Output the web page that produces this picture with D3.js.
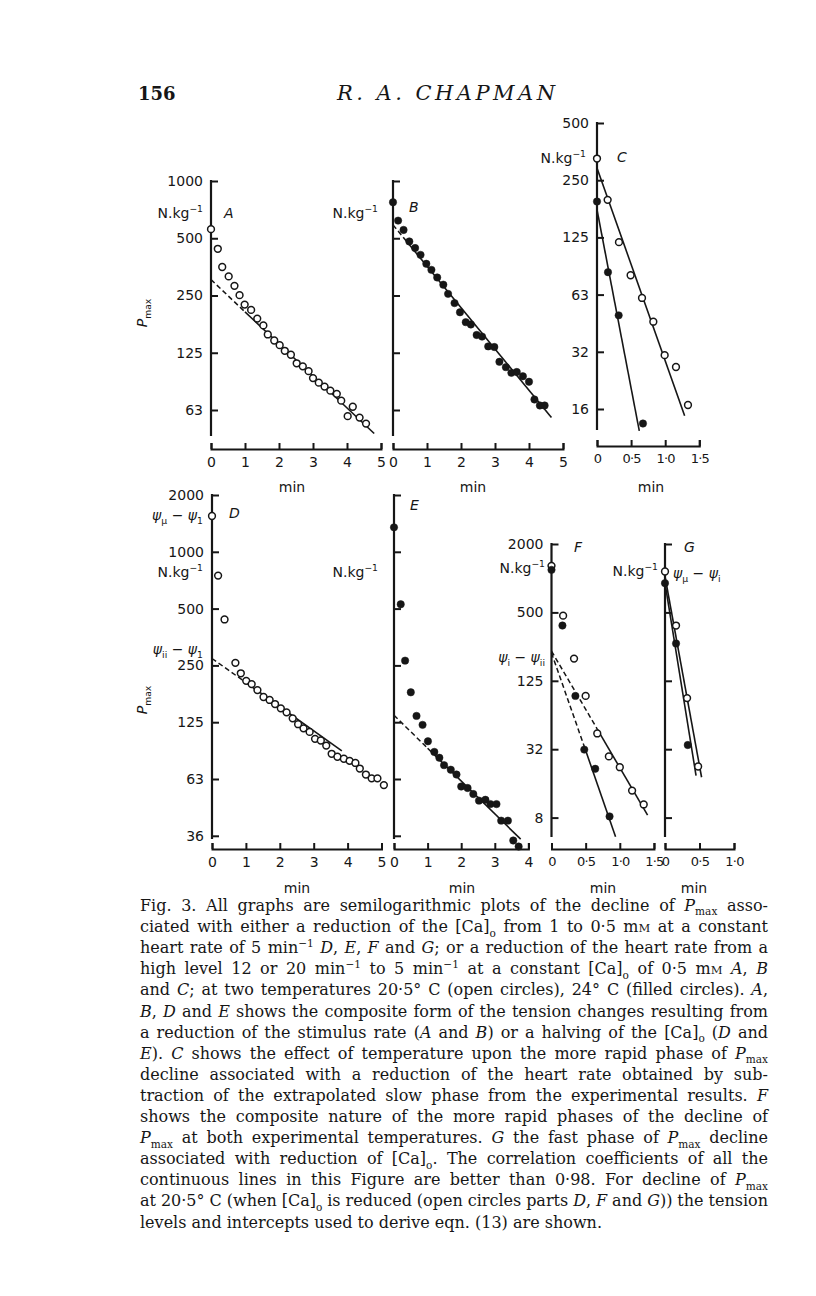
<!DOCTYPE html>
<html>
<head>
<meta charset="utf-8">
<script src="https://cdn.jsdelivr.net/npm/d3@7/dist/d3.min.js"></script>
<style>
  body { margin: 0; background: #fff; }
</style>
</head>
<body>
<div id="fig"></div>
<script>
// ---- data: [minutes, Pmax in N.kg-1] ----
var aOpen = [[0, 558], [0.2, 440], [0.33, 353], [0.52, 315], [0.69, 281], [0.84, 251], [0.99, 224],
  [1.18, 210], [1.36, 189], [1.54, 174], [1.67, 156], [1.86, 145], [2.02, 137], [2.17, 128],
  [2.35, 122], [2.52, 110], [2.70, 106], [2.87, 100], [3.00, 92], [3.17, 87], [3.34, 83],
  [3.51, 79], [3.70, 76], [3.83, 70], [4.02, 58], [4.17, 65], [4.37, 57], [4.56, 53]];
var aFit = [[0, 303], [1.0, 205], [4.8, 47]];

var bFilled = [[0, 773], [0.15, 619], [0.31, 553], [0.48, 481], [0.65, 444], [0.81, 409], [0.98, 367],
  [1.13, 341], [1.30, 311], [1.48, 285], [1.62, 255], [1.81, 228], [1.97, 204], [2.14, 181],
  [2.29, 176], [2.46, 155], [2.62, 152], [2.80, 135], [2.98, 134], [3.13, 112], [3.32, 105],
  [3.48, 98], [3.64, 99], [3.82, 94], [4.00, 88], [4.16, 71], [4.32, 66], [4.46, 66]];
var bFit = [[0, 588], [0.3, 506], [4.66, 57]];

var cOpen = [[0, 325], [0.156, 197], [0.322, 118], [0.493, 79], [0.66, 60], [0.826, 45],
  [0.992, 30], [1.158, 26], [1.334, 16.4]];
var cFilled = [[0, 193], [0.161, 82], [0.318, 48.6], [0.674, 13.1]];
var cOpenFit = [[0, 290], [1.285, 14.4]];
var cFilledFit = [[0, 175], [0.62, 12]];

var dOpen = [[0, 1548], [0.18, 748], [0.37, 438], [0.69, 258], [0.85, 227], [1.01, 207], [1.17, 199],
  [1.34, 185], [1.52, 170], [1.70, 164], [1.86, 156], [2.03, 148], [2.20, 141], [2.38, 131],
  [2.54, 122], [2.70, 116], [2.88, 111], [3.04, 102], [3.21, 100], [3.37, 94], [3.53, 85],
  [3.70, 82], [3.89, 80], [4.06, 78], [4.23, 76], [4.36, 71], [4.54, 66], [4.71, 63],
  [4.88, 63], [5.07, 58]];
var dFit = [[0, 272], [0.9, 209], [3.83, 88]];

var eFilled = [[0, 1348], [0.2, 527], [0.33, 265], [0.5, 180], [0.67, 135], [0.85, 121], [1.01, 99],
  [1.20, 87], [1.35, 81], [1.49, 74], [1.69, 70], [1.86, 66], [2.0, 57], [2.19, 56], [2.36, 52],
  [2.53, 48], [2.72, 48.5], [2.87, 46], [3.05, 46], [3.19, 37.6], [3.39, 37.6], [3.55, 29.5],
  [3.71, 27.4]];
var eFit = [[0, 136], [1.0, 91], [3.77, 30]];

var fOpen = [[0, 1284], [0.17, 468], [0.33, 196], [0.50, 92], [0.67, 43], [0.84, 27], [1.0, 21.7],
  [1.18, 13.5], [1.35, 10.2]];
var fFilled = [[0, 1184], [0.16, 383], [0.35, 92], [0.48, 31], [0.64, 21], [0.85, 8.0]];
var fOpenFit = [[0, 228], [0.67, 47], [1.407, 8.2]];
var fFilledFit = [[0, 220], [0.48, 33], [0.938, 5.3]];

var gOpen = [[0, 1145], [0.16, 383], [0.32, 88], [0.48, 22]];
var gFilled = [[0, 905], [0.16, 266], [0.33, 34]];
var gOpenFit = [[0, 1035], [0.53, 17.7]];
var gFilledFit = [[0, 905], [0.45, 18.3]];

// tick values and labels
var ticks1000 = [1000, 500, 250, 125, 62.5];
var labels1000 = ['1000', '500', '250', '125', '63'];
var ticks500 = [500, 250, 125, 62.5, 31.25, 15.625];
var labels500 = ['500', '250', '125', '63', '32', '16'];
var ticks2000 = [2000, 1000, 500, 250, 125, 62.5, 31.25];
var labels2000 = ['2000', '1000', '500', '250', '125', '63', '36'];
var ticks2000q = [2000, 500, 125, 31.25, 7.8125];
var labels2000q = ['2000', '500', '125', '32', '8'];
var minTicks5 = [0, 1, 2, 3, 4, 5];
var minTicks4 = [0, 1, 2, 3, 4];
var minTicks15 = [0, 0.5, 1, 1.5];
var minLabels15 = ['0', '0·5', '1·0', '1·5'];
var minTicks1 = [0, 0.5, 1];
var minLabels1 = ['0', '0·5', '1·0'];

var captionLines = [
  'Fig. 3. All graphs are semilogarithmic plots of the decline of *P*_{max} asso-',
  'ciated with either a reduction of the [Ca]_{o} from 1 to 0·5 m~{M} at a constant',
  'heart rate of 5 min^{−1} *D*, *E*, *F* and *G*; or a reduction of the heart rate from a',
  'high level 12 or 20 min^{−1} to 5 min^{−1} at a constant [Ca]_{o} of 0·5 m~{M} *A*, *B*',
  'and *C*; at two temperatures 20·5° C (open circles), 24° C (filled circles). *A*,',
  '*B*, *D* and *E* shows the composite form of the tension changes resulting from',
  'a reduction of the stimulus rate (*A* and *B*) or a halving of the [Ca]_{o} (*D* and',
  '*E*). *C* shows the effect of temperature upon the more rapid phase of *P*_{max}',
  'decline associated with a reduction of the heart rate obtained by sub-',
  'traction of the extrapolated slow phase from the experimental results. *F*',
  'shows the composite nature of the more rapid phases of the decline of',
  '*P*_{max} at both experimental temperatures. *G* the fast phase of *P*_{max} decline',
  'associated with reduction of [Ca]_{o}. The correlation coefficients of all the',
  'continuous lines in this Figure are better than 0·98. For decline of *P*_{max}',
  'at 20·5° C (when [Ca]_{o} is reduced (open circles parts *D*, *F* and *G*)) the tension',
  'levels and intercepts used to derive eqn. (13) are shown.'
];

// ---- page ----
var w = 816;
var h = 1296;
var ink = '#161616';
var sans = '"DejaVu Sans", sans-serif';
var serif = '"DejaVu Serif", serif';

var svg = d3.select('#fig')
  .append('svg')
  .attr('width', w)
  .attr('height', h);

svg.append('rect')
  .attr('width', w)
  .attr('height', h)
  .attr('fill', '#fff');

// rich text: *italic*, _{sub}, ^{sup}, ~{small caps}
var rich = function (sel, str, size) {
  var re = /\*([^*]+)\*|_\{([^}]+)\}|\^\{([^}]+)\}|~\{([^}]+)\}|([^*_^~]+)/g;
  var shift = 0;
  var m;
  while ((m = re.exec(str)) !== null) {
    var t = sel.append('tspan');
    var dy = 0;
    if (m[1]) {
      t.text(m[1]).attr('font-style', 'italic');
      dy = -shift; shift = 0;
    } else if (m[2]) {
      t.text(m[2]).attr('font-size', size * 0.66);
      dy = size * 0.28 - shift; shift = size * 0.28;
    } else if (m[3]) {
      t.text(m[3]).attr('font-size', size * 0.66);
      dy = -size * 0.4 - shift; shift = -size * 0.4;
    } else if (m[4]) {
      t.text(m[4]).attr('font-size', size * 0.72);
      dy = -shift; shift = 0;
    } else {
      t.text(m[5]);
      dy = -shift; shift = 0;
    }
    if (dy) t.attr('dy', dy);
  }
  return sel;
};

var label = function (x, y, str, anchor, size) {
  var t = svg.append('text')
    .attr('x', x)
    .attr('y', y)
    .attr('dy', '0.35em')
    .attr('text-anchor', anchor || 'start')
    .attr('font-family', sans)
    .attr('font-size', size || 14)
    .attr('fill', ink);
  return rich(t, str, size || 14);
};

// ---- header ----
svg.append('text')
  .attr('x', 138).attr('y', 100)
  .attr('font-family', serif).attr('font-weight', 'bold').attr('font-size', 18)
  .attr('fill', ink)
  .text('156');

svg.append('text')
  .attr('x', 337).attr('y', 100)
  .attr('font-family', serif).attr('font-style', 'italic').attr('font-size', 21)
  .attr('textLength', 218).attr('lengthAdjust', 'spacing')
  .attr('fill', ink)
  .text('R. A. CHAPMAN');

// ---- panels ----
var panels = [
  { x0: 211, pxPerMin: 34, xTicks: minTicks5, yTop: 1000, yTopPx: 181, ppd: 57.25, nDoub: 4,
    yTicks: ticks1000, yLabels: labels1000, axisBottom: 436, base: 449, minPos: [292, 487],
    series: [[aOpen, false]], fits: [[aFit, true]] },
  { x0: 393, pxPerMin: 34, xTicks: minTicks5, yTop: 1000, yTopPx: 181, ppd: 57.25, nDoub: 4,
    yTicks: ticks1000, axisBottom: 436, base: 449, minPos: [473, 487],
    series: [[bFilled, true]], fits: [[bFit, true]] },
  { x0: 597, pxPerMin: 68.2, xTicks: minTicks15, xLabels: minLabels15, yTop: 500, yTopPx: 123,
    ppd: 57.2, nDoub: 5, yTicks: ticks500, yLabels: labels500, axisBottom: 430, base: 446,
    minPos: [651, 487],
    series: [[cOpen, false], [cFilled, true]], fits: [[cOpenFit, false], [cFilledFit, false]] },
  { x0: 212, pxPerMin: 33.9, xTicks: minTicks5, yTop: 2000, yTopPx: 495, ppd: 56.8, nDoub: 6,
    yTicks: ticks2000, yLabels: labels2000, axisBottom: 839, base: 849, minPos: [297, 888],
    series: [[dOpen, false]], fits: [[dFit, true]] },
  { x0: 394, pxPerMin: 33.6, xTicks: minTicks4, yTop: 2000, yTopPx: 495, ppd: 56.8, nDoub: 6,
    yTicks: ticks2000, axisBottom: 839, base: 849, minPos: [462, 888],
    series: [[eFilled, true]], fits: [[eFit, true]] },
  { x0: 551.5, pxPerMin: 68.3, xTicks: minTicks15, xLabels: minLabels15, yTop: 2000, yTopPx: 544,
    ppd: 34.2, nDoub: 8, yTicks: ticks2000q, yLabels: labels2000q, axisBottom: 837, base: 849,
    minPos: [603, 888],
    series: [[fOpen, false], [fFilled, true]], fits: [[fOpenFit, true], [fFilledFit, true]] },
  { x0: 665, pxPerMin: 69, xTicks: minTicks1, xLabels: minLabels1, yTop: 2000, yTopPx: 544,
    ppd: 34.2, nDoub: 8, yTicks: ticks2000q, axisBottom: 837, base: 849, minPos: [694, 888],
    series: [[gOpen, false], [gFilled, true]], fits: [[gOpenFit, false], [gFilledFit, false]] }
];

panels.forEach(function (p) {
  var xMax = p.xTicks[p.xTicks.length - 1];
  var xScale = d3.scaleLinear()
    .domain([0, xMax])
    .range([p.x0, p.x0 + xMax * p.pxPerMin]);
  var yScale = d3.scaleLog().base(2)
    .domain([p.yTop, p.yTop / Math.pow(2, p.nDoub)])
    .range([p.yTopPx, p.yTopPx + p.nDoub * p.ppd]);

  var g = svg.append('g');

  // y axis, ticks pointing inward, labels outside
  var yAxis = d3.axisLeft(yScale)
    .tickValues(p.yTicks)
    .tickSizeInner(-7)
    .tickSizeOuter(0)
    .tickPadding(8)
    .tickFormat(function (d, i) { return p.yLabels ? p.yLabels[i] : ''; });

  var yg = g.append('g')
    .attr('transform', 'translate(' + p.x0 + ',0)')
    .call(yAxis);
  yg.select('.domain').remove();
  yg.selectAll('line').attr('stroke', ink).attr('stroke-width', 2);
  yg.selectAll('text').attr('font-family', sans).attr('font-size', 14).attr('fill', ink);
  yg.append('line')
    .attr('y1', p.yTopPx - 1).attr('y2', p.axisBottom)
    .attr('stroke', ink).attr('stroke-width', 2.2);

  // x axis, ticks pointing up
  var xAxis = d3.axisBottom(xScale)
    .tickValues(p.xTicks)
    .tickSizeInner(-6)
    .tickSizeOuter(-6)
    .tickPadding(8)
    .tickFormat(function (d, i) { return p.xLabels ? p.xLabels[i] : d; });

  var xg = g.append('g')
    .attr('transform', 'translate(0,' + p.base + ')')
    .call(xAxis);
  xg.select('.domain').attr('stroke', ink).attr('stroke-width', 2);
  xg.selectAll('line').attr('stroke', ink).attr('stroke-width', 2);
  xg.selectAll('text')
    .attr('font-family', sans)
    .attr('font-size', p.xLabels ? 13 : 14)
    .attr('letter-spacing', p.xLabels ? -0.8 : 0)
    .attr('fill', ink);

  label(p.minPos[0], p.minPos[1], 'min', 'middle', 14);

  // fitted lines (first segment dashed where the fit is extrapolated)
  p.fits.forEach(function (f) {
    var pts = f[0];
    var dashed = f[1];
    var line = d3.line()
      .x(function (d) { return xScale(d[0]); })
      .y(function (d) { return yScale(d[1]); });
    if (dashed) {
      g.append('path')
        .datum(pts.slice(0, 2))
        .attr('d', line)
        .attr('fill', 'none').attr('stroke', ink).attr('stroke-width', 1.5)
        .attr('stroke-dasharray', '5,3');
      g.append('path')
        .datum(pts.slice(1))
        .attr('d', line)
        .attr('fill', 'none').attr('stroke', ink).attr('stroke-width', 1.6);
    } else {
      g.append('path')
        .datum(pts)
        .attr('d', line)
        .attr('fill', 'none').attr('stroke', ink).attr('stroke-width', 1.6);
    }
  });

  // data points: open circles 20.5 C, filled circles 24 C
  p.series.forEach(function (s) {
    g.selectAll(null)
      .data(s[0])
      .enter()
      .append('circle')
      .attr('cx', function (d) { return xScale(d[0]); })
      .attr('cy', function (d) { return yScale(d[1]); })
      .attr('r', s[1] ? 3.7 : 3.4)
      .attr('fill', s[1] ? ink : '#fff')
      .attr('stroke', ink)
      .attr('stroke-width', s[1] ? 0.5 : 1.5);
  });
});

// ---- panel annotations ----
var nkg = 'N.kg^{−1}';
label(203, 213, nkg, 'end');
label(224, 213, '*A*', 'start');
label(378, 213, nkg, 'end');
label(409, 207, '*B*', 'start');
label(586, 158, nkg, 'end');
label(617, 157, '*C*', 'start');

label(203, 515, '*ψ*_{μ} − *ψ*_{1}', 'end');
label(229, 513, '*D*', 'start');
label(203, 572, nkg, 'end');
label(203, 649, '*ψ*_{ii} − *ψ*_{1}', 'end');
label(378, 572, nkg, 'end');
label(410, 505, '*E*', 'start');

label(545, 568, nkg, 'end');
label(574, 547, '*F*', 'start');
label(545, 657, '*ψ*_{i} − *ψ*_{ii}', 'end');
label(658, 571, nkg, 'end');
label(684, 547, '*G*', 'start');
label(673, 573, '*ψ*_{μ} − *ψ*_{i}', 'start');

// rotated Pmax labels
[313, 700].forEach(function (yc) {
  var t = svg.append('text')
    .attr('transform', 'translate(147,' + yc + ') rotate(-90)')
    .attr('text-anchor', 'middle')
    .attr('font-family', sans)
    .attr('font-size', 14)
    .attr('fill', ink);
  rich(t, '*P*_{max}', 14);
});

// ---- caption, justified word by word ----
var capLeft = 140;
var capWidth = 628;
var capTop = 911;
var capStep = 21.1;
var capG = svg.append('g');

var layoutCaption = function (size) {
  capG.selectAll('*').remove();
  var worst = Infinity;
  captionLines.forEach(function (line, i) {
    var yb = capTop + i * capStep;
    var words = line.split(' ');
    var nodes = words.map(function (wd) {
      var t = capG.append('text')
        .attr('y', yb)
        .attr('font-family', serif)
        .attr('font-size', size)
        .attr('fill', ink);
      return rich(t, wd, size);
    });
    var widths = nodes.map(function (n) { return n.node().getComputedTextLength(); });
    var total = d3.sum(widths);
    var last = i === captionLines.length - 1;
    var gap = last ? size * 0.32 : (capWidth - total) / (words.length - 1);
    if (!last) worst = Math.min(worst, gap);
    var x = capLeft;
    nodes.forEach(function (n, k) {
      n.attr('x', x);
      x += widths[k] + gap;
    });
  });
  return worst;
};

// largest size up to 16px that still leaves a readable word gap on every line
var capSize = 16;
while (layoutCaption(capSize) < 4.2 && capSize > 13) capSize -= 0.2;
</script>
</body>
</html>
